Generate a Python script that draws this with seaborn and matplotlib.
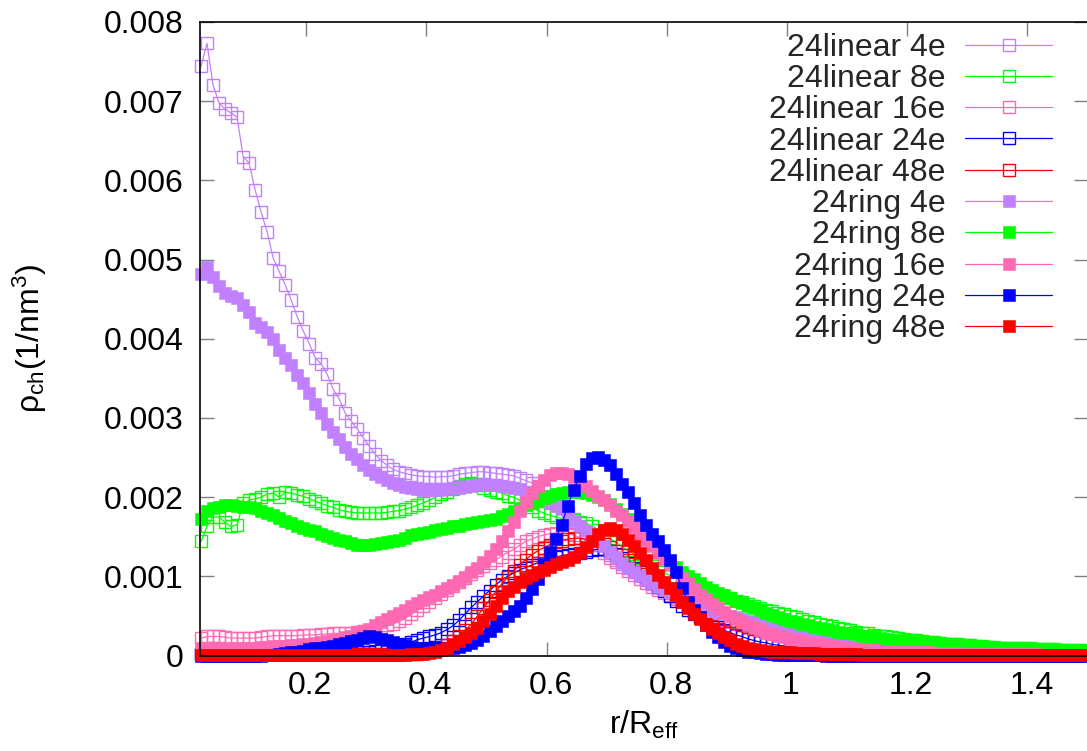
import numpy as np
import pandas as pd
import matplotlib
matplotlib.use("Agg")
import matplotlib.pyplot as plt
from matplotlib.transforms import ScaledTranslation
import seaborn as sns

# r/R_eff sampling grid
r_vals = [
    0.025, 0.035, 0.045, 0.055, 0.065, 0.075, 0.085, 0.095, 0.105, 0.115,
    0.125, 0.135, 0.145, 0.155, 0.165, 0.175, 0.185, 0.195, 0.205, 0.215,
    0.225, 0.235, 0.245, 0.255, 0.265, 0.275, 0.285, 0.295, 0.305, 0.315,
    0.325, 0.335, 0.345, 0.355, 0.365, 0.375, 0.385, 0.395, 0.405, 0.415,
    0.425, 0.435, 0.445, 0.455, 0.465, 0.475, 0.485, 0.495, 0.505, 0.515,
    0.525, 0.535, 0.545, 0.555, 0.565, 0.575, 0.585, 0.595, 0.605, 0.615,
    0.625, 0.635, 0.645, 0.655, 0.665, 0.675, 0.685, 0.695, 0.705, 0.715,
    0.725, 0.735, 0.745, 0.755, 0.765, 0.775, 0.785, 0.795, 0.805, 0.815,
    0.825, 0.835, 0.845, 0.855, 0.865, 0.875, 0.885, 0.895, 0.905, 0.915,
    0.925, 0.935, 0.945, 0.955, 0.965, 0.975, 0.985, 0.995, 1.005, 1.015,
    1.025, 1.035, 1.045, 1.055, 1.065, 1.075, 1.085, 1.095, 1.105, 1.115,
    1.125, 1.135, 1.145, 1.155, 1.165, 1.175, 1.185, 1.195, 1.205, 1.215,
    1.225, 1.235, 1.245, 1.255, 1.265, 1.275, 1.285, 1.295, 1.305, 1.315,
    1.325, 1.335, 1.345, 1.355, 1.365, 1.375, 1.385, 1.395, 1.405, 1.415,
    1.425, 1.435, 1.445, 1.455, 1.465, 1.475, 1.485, 1.495,
]

# charge densities, in units of 1e-5 1/nm^3
lin_4e = [
    744, 773, 720, 698, 690, 685, 680, 630, 622, 588,
    560, 535, 502, 485, 468, 449, 428, 410, 394, 376,
    368, 355, 336, 324, 306, 296, 286, 275, 264, 254,
    246, 240, 235, 232, 230, 228, 227, 226, 226, 225,
    226, 226, 227, 229, 230, 231, 232, 232, 231, 230,
    229, 228, 227, 224, 221, 218, 214, 209, 202, 195,
    188, 180, 172, 163, 155, 147, 140, 133, 127, 121,
    115, 110, 105, 100, 95, 90, 86, 82, 77, 73,
    69, 65, 62, 58, 55, 52, 49, 46, 43, 41,
    38, 36, 34, 32, 30, 28, 26, 25, 23, 22,
    20, 19, 18, 17, 16, 15, 14, 13, 12, 11,
    11, 10, 9, 9, 8, 8, 7, 7, 7, 6,
    6, 6, 5, 5, 5, 5, 4, 4, 4, 4,
    4, 3, 3, 3, 3, 3, 3, 3, 2, 2,
    2, 2, 2, 2, 2, 2, 2, 2,
]
lin_8e = [
    144, 163, 175, 175, 168, 163, 165, 192, 196, 198,
    200, 204, 205, 200, 206, 205, 203, 201, 198, 195,
    192, 189, 187, 184, 182, 181, 180, 180, 180, 180,
    180, 181, 182, 183, 185, 187, 190, 193, 196, 200,
    204, 207, 210, 213, 216, 218, 215, 212, 209, 207,
    205, 202, 200, 196, 191, 187, 183, 180, 177, 175,
    173, 172, 171, 169, 167, 164, 159, 153, 148, 143,
    138, 133, 128, 123, 118, 113, 109, 105, 101, 97,
    94, 91, 88, 85, 82, 79, 77, 74, 72, 69,
    67, 65, 62, 60, 58, 56, 54, 52, 50, 48,
    46, 44, 42, 40, 38, 37, 35, 33, 32, 30,
    29, 28, 26, 25, 24, 23, 22, 21, 20, 19,
    18, 17, 17, 16, 15, 15, 14, 13, 13, 12,
    12, 11, 11, 10, 10, 10, 9, 9, 9, 8,
    8, 8, 8, 7, 7, 7, 7, 7,
]
lin_16e = [
    22, 24, 24, 24, 23, 22, 22, 22, 22, 22,
    23, 24, 25, 25, 25, 25, 25, 26, 26, 26,
    27, 27, 28, 28, 29, 29, 30, 31, 32, 34,
    36, 38, 40, 43, 47, 52, 57, 62, 68, 73,
    78, 83, 88, 93, 98, 103, 108, 113, 117, 121,
    125, 130, 134, 139, 144, 147, 150, 152, 154, 155,
    155, 154, 152, 149, 145, 140, 135, 129, 123, 118,
    112, 107, 102, 97, 92, 87, 83, 79, 75, 71,
    67, 63, 60, 57, 54, 51, 48, 45, 43, 40,
    38, 36, 34, 32, 30, 28, 26, 25, 23, 22,
    20, 19, 17, 16, 15, 14, 13, 12, 11, 10,
    9, 9, 8, 7, 7, 6, 6, 5, 5, 5,
    4, 4, 4, 3, 3, 3, 3, 3, 2, 2,
    2, 2, 2, 2, 2, 2, 1, 1, 1, 1,
    1, 1, 1, 1, 1, 1, 1, 1,
]
lin_24e = [
    2, 2, 2, 2, 2, 2, 2, 2, 2, 2,
    2, 2, 2, 2, 2, 2, 3, 3, 3, 3,
    3, 3, 3, 3, 3, 4, 4, 4, 5, 6,
    7, 8, 10, 12, 14, 17, 20, 22, 24, 26,
    29, 33, 38, 45, 53, 61, 68, 75, 82, 89,
    95, 100, 104, 108, 111, 114, 117, 120, 122, 124,
    126, 127, 128, 129, 131, 133, 134, 134, 132, 128,
    123, 117, 111, 105, 99, 93, 87, 81, 75, 69,
    63, 58, 53, 48, 44, 40, 36, 32, 29, 26,
    24, 21, 19, 17, 16, 14, 13, 12, 11, 10,
    10, 9, 9, 8, 8, 7, 7, 7, 6, 6,
    6, 5, 5, 5, 5, 4, 4, 4, 4, 4,
    3, 3, 3, 3, 3, 3, 3, 2, 2, 2,
    2, 2, 2, 2, 2, 2, 2, 2, 1, 1,
    1, 1, 1, 1, 1, 1, 1, 1,
]
lin_48e = [
    2, 2, 2, 2, 2, 2, 2, 2, 2, 2,
    2, 2, 2, 2, 2, 2, 2, 2, 2, 2,
    2, 2, 2, 2, 2, 2, 2, 2, 2, 2,
    2, 2, 2, 2, 2, 2, 2, 3, 4, 6,
    9, 13, 18, 24, 32, 40, 50, 60, 70, 80,
    90, 99, 107, 114, 121, 127, 132, 136, 140, 143,
    145, 147, 148, 148, 147, 146, 144, 141, 137, 132,
    127, 121, 115, 109, 103, 97, 91, 86, 81, 76,
    71, 67, 63, 59, 55, 52, 49, 46, 43, 41,
    38, 36, 34, 32, 31, 29, 28, 27, 26, 25,
    24, 23, 22, 21, 20, 19, 18, 17, 16, 15,
    14, 13, 12, 11, 10, 10, 9, 8, 8, 7,
    7, 6, 6, 5, 5, 5, 4, 4, 4, 3,
    3, 3, 3, 3, 2, 2, 2, 2, 2, 2,
    2, 2, 1, 1, 1, 1, 1, 1,
]
ring_4e = [
    482, 490, 478, 466, 458, 454, 452, 443, 434, 420,
    415, 408, 400, 386, 376, 367, 354, 344, 332, 318,
    306, 292, 282, 273, 263, 255, 248, 240, 234, 229,
    225, 221, 218, 215, 213, 211, 210, 209, 209, 209,
    209, 210, 211, 212, 213, 214, 215, 215, 215, 215,
    214, 213, 212, 210, 207, 204, 201, 197, 193, 189,
    185, 178, 170, 163, 157, 151, 145, 138, 131, 124,
    117, 111, 105, 100, 95, 91, 87, 83, 80, 76,
    72, 69, 65, 62, 59, 56, 54, 52, 50, 48,
    46, 44, 42, 40, 38, 37, 35, 34, 32, 31,
    30, 28, 27, 26, 25, 24, 22, 21, 20, 19,
    18, 17, 16, 15, 14, 13, 12, 12, 11, 10,
    10, 9, 9, 8, 8, 7, 7, 7, 6, 6,
    6, 5, 5, 5, 5, 4, 4, 4, 4, 4,
    3, 3, 3, 3, 3, 3, 3, 3,
]
ring_8e = [
    172, 182, 186, 188, 190, 190, 189, 188, 188, 186,
    183, 180, 177, 174, 170, 167, 164, 161, 159, 157,
    154, 151, 148, 146, 144, 142, 140, 139, 140, 141,
    142, 143, 144, 146, 149, 152, 154, 155, 156, 158,
    160, 161, 163, 164, 166, 167, 169, 170, 171, 173,
    176, 179, 182, 186, 190, 193, 196, 199, 201, 204,
    205, 206, 207, 206, 205, 203, 200, 196, 191, 185,
    179, 172, 166, 159, 152, 144, 136, 127, 119, 112,
    106, 101, 96, 91, 87, 83, 79, 76, 72, 69,
    66, 63, 60, 57, 54, 51, 48, 46, 44, 42,
    40, 38, 36, 35, 33, 32, 30, 29, 28, 27,
    25, 24, 23, 22, 21, 20, 19, 18, 18, 17,
    16, 16, 15, 14, 14, 13, 13, 12, 12, 11,
    11, 11, 10, 10, 10, 9, 9, 9, 8, 8,
    8, 8, 7, 7, 7, 7, 6, 6,
]
ring_16e = [
    10, 10, 10, 10, 10, 10, 10, 10, 10, 10,
    11, 11, 12, 12, 12, 13, 13, 14, 15, 16,
    17, 18, 19, 21, 23, 25, 28, 31, 34, 38,
    42, 46, 50, 54, 58, 62, 66, 70, 74, 77,
    81, 85, 89, 94, 99, 105, 111, 118, 126, 135,
    145, 157, 169, 182, 194, 205, 214, 222, 228, 231,
    231, 229, 225, 220, 214, 208, 202, 196, 190, 183,
    177, 170, 162, 154, 146, 138, 130, 122, 114, 107,
    98, 91, 84, 77, 71, 65, 60, 55, 50, 46,
    42, 38, 35, 32, 29, 27, 25, 23, 21, 19,
    18, 16, 15, 14, 13, 12, 11, 10, 9, 8,
    8, 7, 7, 6, 6, 5, 5, 5, 4, 4,
    4, 4, 3, 3, 3, 3, 3, 2, 2, 2,
    2, 2, 2, 2, 2, 2, 2, 2, 2, 2,
    1, 1, 1, 1, 1, 1, 1, 1,
]
ring_24e = [
    0, 0, 0, 0, 0, 0, 0, 0, 0, 0,
    0, 1, 1, 2, 3, 4, 5, 6, 8, 9,
    10, 11, 12, 14, 16, 18, 20, 22, 24, 23,
    21, 19, 17, 15, 13, 11, 10, 9, 9, 9,
    9, 9, 10, 11, 13, 16, 20, 25, 31, 37,
    44, 50, 56, 63, 73, 84, 97, 115, 131, 147,
    165, 189, 209, 227, 242, 249, 251, 247, 240, 229,
    217, 206, 193, 178, 165, 154, 144, 133, 121, 106,
    85, 68, 57, 48, 38, 30, 23, 17, 12, 9,
    7, 5, 4, 3, 2, 2, 1, 1, 1, 1,
    1, 1, 1, 1, 0, 0, 0, 0, 0, 0,
    0, 0, 0, 0, 0, 0, 0, 0, 0, 0,
    0, 0, 0, 0, 0, 0, 0, 0, 0, 0,
    0, 0, 0, 0, 0, 0, 0, 0, 0, 0,
    0, 0, 0, 0, 0, 0, 0, 0,
]
ring_48e = [
    1, 1, 1, 1, 1, 1, 1, 1, 1, 1,
    1, 1, 1, 1, 1, 1, 1, 1, 1, 1,
    1, 1, 1, 1, 1, 1, 1, 1, 1, 1,
    1, 1, 1, 1, 1, 2, 2, 2, 3, 5,
    7, 10, 14, 18, 23, 29, 35, 43, 52, 62,
    72, 81, 87, 93, 98, 102, 105, 108, 112, 115,
    118, 121, 125, 130, 137, 145, 153, 159, 161, 158,
    153, 146, 138, 129, 120, 111, 102, 93, 85, 76,
    68, 60, 53, 46, 39, 33, 28, 23, 19, 15,
    12, 10, 8, 7, 6, 5, 5, 4, 4, 3,
    3, 3, 3, 2, 2, 2, 2, 2, 2, 2,
    1, 1, 1, 1, 1, 1, 1, 1, 1, 1,
    1, 1, 1, 1, 1, 1, 1, 1, 1, 1,
    1, 1, 1, 1, 1, 1, 1, 1, 1, 1,
    1, 1, 1, 1, 1, 1, 1, 1,
]

series_names = ["24linear 4e", "24linear 8e", "24linear 16e", "24linear 24e", "24linear 48e",
                "24ring 4e", "24ring 8e", "24ring 16e", "24ring 24e", "24ring 48e"]
series_vals = [lin_4e, lin_8e, lin_16e, lin_24e, lin_48e,
               ring_4e, ring_8e, ring_16e, ring_24e, ring_48e]
series_colors = ["#c080ff", "#00ff00", "#ff69b4", "#0000ff", "#ff0000",
                 "#c080ff", "#00ff00", "#ff69b4", "#0000ff", "#ff0000"]
series_hollow = [True] * 5 + [False] * 5

xtick_vals = [0.2, 0.4, 0.6, 0.8, 1.0, 1.2, 1.4]
xtick_labels = ["0.2", "0.4", "0.6", "0.8", "1", "1.2", "1.4"]
ytick_vals = [0, 0.001, 0.002, 0.003, 0.004, 0.005, 0.006, 0.007, 0.008]
ytick_labels = ["0", "0.001", "0.002", "0.003", "0.004", "0.005", "0.006", "0.007", "0.008"]

sns.set_theme(style="ticks")
plt.rcParams["font.family"] = ["Liberation Sans", "DejaVu Sans"]
plt.rcParams["mathtext.fontset"] = "custom"
plt.rcParams["mathtext.rm"] = "Liberation Sans"
plt.rcParams["mathtext.it"] = "Liberation Sans"
plt.rcParams["mathtext.default"] = "regular"

FS = 23
W, H = 1087, 751
fig = plt.figure(figsize=(W / 100, H / 100), dpi=100)
fig.patch.set_facecolor("white")
ax = fig.add_axes([200 / W, 95.5 / H, 887.5 / W, 633.5 / H])
ax.set_facecolor("white")

for name, vals, col, hollow in zip(series_names, series_vals, series_colors, series_hollow):
    df = pd.DataFrame({"r": r_vals, "rho": np.array(vals) * 1e-5})
    sns.lineplot(
        data=df, x="r", y="rho", ax=ax, color=col, linewidth=0.9,
        marker="s", markersize=8,
        markerfacecolor="none" if hollow else col,
        markeredgecolor=col,
        markeredgewidth=1.0 if hollow else 0.4,
        label=name, estimator=None, sort=False, clip_on=False,
    )

ax.set_xlim(0.0233, 1.5)
ax.set_ylim(0, 0.008)
ax.set_xticks(xtick_vals)
ax.set_xticklabels(xtick_labels)
ax.set_yticks(ytick_vals)
ax.set_yticklabels(ytick_labels)
ax.tick_params(axis="both", which="major", direction="in", length=10, width=1,
               color="#808080", labelcolor="black", labelsize=FS,
               top=True, right=True, labeltop=False, labelright=False)
ax.tick_params(axis="x", pad=11)
ax.tick_params(axis="y", pad=12)
shift = ScaledTranslation(4 / 100, 0, fig.dpi_scale_trans)
for lab in ax.get_xticklabels():
    lab.set_transform(lab.get_transform() + shift)
for sp in ax.spines.values():
    sp.set_color("black")
    sp.set_linewidth(1.2)

ax.set_xlabel("r/R$_{eff}$", fontsize=FS, labelpad=6, color="black")
ax.set_ylabel("ρ$_{ch}$(1/nm$^{3}$)", fontsize=FS, labelpad=39, color="black")

handles, labels = ax.get_legend_handles_labels()
leg = ax.legend(handles, labels, loc="upper right", bbox_to_anchor=(0.960, 0.983),
                frameon=False, markerfirst=False, numpoints=1, handlelength=2.72,
                handletextpad=0.62, labelspacing=0.04, borderaxespad=0, borderpad=0,
                fontsize=FS)

fig.savefig("out.png", dpi=100, facecolor="white")
